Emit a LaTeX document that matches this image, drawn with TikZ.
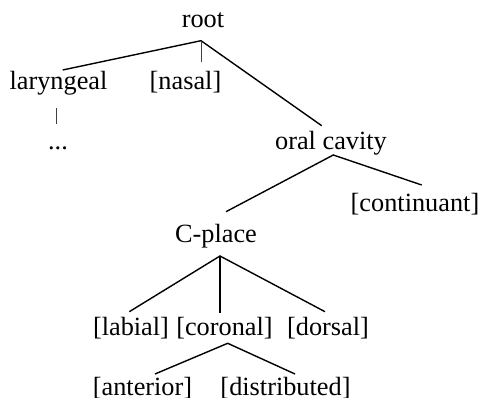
\documentclass[tikz,border=0pt]{standalone}
\usepackage{fontspec}
\setmainfont{Liberation Serif}
\begin{document}
\begin{tikzpicture}[x=1pt,y=-1pt,
  lbl/.style={inner sep=0pt,anchor=base,font=\fontsize{26.3}{30}\selectfont},
  branch/.style={line width=1.4pt},
  stem/.style={line width=1pt,black!75}]
\useasboundingbox (0,0) rectangle (482,398);
\node[lbl] (root) at (203,28) {root};
\node[lbl] (lar) at (58.5,90) {laryngeal};
\node[lbl] (nasal) at (185.5,90) {[nasal]};
\node[lbl] (dots) at (58,150) {...};
\node[lbl] (oral) at (331,150) {oral cavity};
\node[lbl] (cont) at (415,212) {[continuant]};
\node[lbl] (cplace) at (216,243) {C-place};
\node[lbl] (lab) at (131,335) {[labial]};
\node[lbl] (cor) at (224.5,335) {[coronal]};
\node[lbl] (dor) at (328,335) {[dorsal]};
\node[lbl] (ant) at (142.5,395) {[anterior]};
\node[lbl] (dist) at (285.5,395) {[distributed]};
% root
\draw[branch] ([shift={(4.2,-20)}]lar.base) -- ([shift={(-2,12.7)}]root.base) -- ([shift={(-9.3,-24.3)}]oral.base);
\draw[stem] ([shift={(-2,12.7)}]root.base) -- ([shift={(15.5,-28.3)}]nasal.base);
\draw[stem] ([shift={(-1.8,18)}]lar.base) -- ([shift={(-1.3,-26)}]dots.base);
% oral cavity
\draw[branch] ([shift={(10,-31.3)}]cplace.base) -- ([shift={(2.3,5)}]oral.base) -- ([shift={(6.7,-27)}]cont.base);
% C-place
\draw[branch] ([shift={(-1.7,-23.3)}]lab.base) -- ([shift={(4,13)}]cplace.base) -- ([shift={(-3,-23.3)}]dor.base);
\draw[branch] ([shift={(4,13)}]cplace.base) -- ([shift={(-4.5,-21.7)}]cor.base);
% coronal
\draw[branch] ([shift={(12.5,-21)}]ant.base) -- ([shift={(3.2,8.3)}]cor.base) -- ([shift={(9.5,-21)}]dist.base);
\end{tikzpicture}
\end{document}
